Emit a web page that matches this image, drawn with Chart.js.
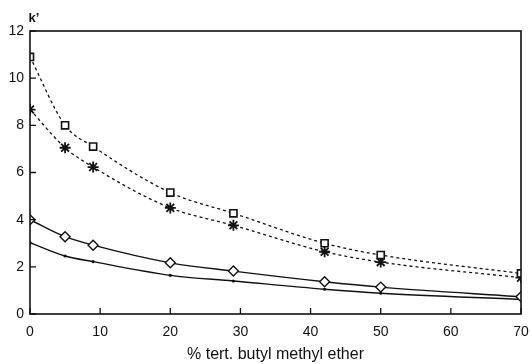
<!DOCTYPE html>
<html>
<head>
<meta charset="utf-8">
<script src="https://cdn.jsdelivr.net/npm/chart.js@4"></script>
<style>
  html, body { margin: 0; padding: 0; background: #fff; }
  #wrap { width: 532px; height: 364px; }
</style>
</head>
<body>
<div id="wrap"><canvas id="chart" width="532" height="364"></canvas></div>
<script>
const xVals = [0, 5, 9, 20, 29, 42, 50, 70];
const squares = [10.9, 8.0, 7.1, 5.15, 4.27, 3.0, 2.5, 1.72];
const stars = [8.67, 7.05, 6.23, 4.5, 3.76, 2.64, 2.2, 1.54];
const diamonds = [4.0, 3.28, 2.92, 2.17, 1.82, 1.37, 1.14, 0.73];
const dots = [3.02, 2.46, 2.22, 1.64, 1.4, 1.05, 0.88, 0.62];
const xTicks = [0, 10, 20, 30, 40, 50, 60, 70];
const yTicks = [0, 2, 4, 6, 8, 10, 12];

const FONT = "'Liberation Sans', Arial, sans-serif";
const INK = "#111";

function pts(ys) {
  return xVals.map((x, i) => ({ x, y: ys[i] }));
}

// frame + inward ticks + k' label
const framePlugin = {
  id: "frame",
  afterDraw(chart) {
    const { ctx, chartArea: a, scales } = chart;
    ctx.save();
    ctx.strokeStyle = INK;
    ctx.lineWidth = 1.6;
    ctx.strokeRect(a.left, a.top, a.right - a.left, a.bottom - a.top);
    ctx.lineWidth = 1.3;
    ctx.beginPath();
    xTicks.forEach(v => {
      const px = scales.x.getPixelForValue(v);
      ctx.moveTo(px, a.bottom);
      ctx.lineTo(px, a.bottom - 6);
    });
    yTicks.forEach(v => {
      const py = scales.y.getPixelForValue(v);
      ctx.moveTo(a.left, py);
      ctx.lineTo(a.left + 6, py);
    });
    ctx.stroke();
    ctx.fillStyle = INK;
    ctx.font = "bold 13px " + FONT;
    ctx.textAlign = "center";
    ctx.textBaseline = "middle";
    ctx.fillText("k\u2019", 34, 18);
    ctx.restore();
  }
};

new Chart(document.getElementById("chart"), {
  type: "scatter",
  data: {
    datasets: [
      {
        data: pts(squares),
        showLine: true,
        cubicInterpolationMode: "monotone",
        borderColor: INK,
        borderWidth: 1.3,
        borderDash: [3, 3],
        pointStyle: "rect",
        pointRadius: 5,
        pointBorderWidth: 1.6,
        pointBackgroundColor: "#fff",
        pointBorderColor: INK
      },
      {
        data: pts(stars),
        showLine: true,
        cubicInterpolationMode: "monotone",
        borderColor: INK,
        borderWidth: 1.3,
        borderDash: [3, 3],
        pointStyle: "star",
        pointRadius: 5.5,
        pointBorderWidth: 1.8,
        pointBackgroundColor: INK,
        pointBorderColor: INK
      },
      {
        data: pts(diamonds),
        showLine: true,
        cubicInterpolationMode: "monotone",
        borderColor: INK,
        borderWidth: 1.4,
        pointStyle: "rectRot",
        pointRadius: 5,
        pointBorderWidth: 1.4,
        pointBackgroundColor: "#fff",
        pointBorderColor: INK
      },
      {
        data: pts(dots),
        showLine: true,
        cubicInterpolationMode: "monotone",
        borderColor: INK,
        borderWidth: 1.4,
        pointStyle: "circle",
        pointRadius: 1.6,
        pointBorderWidth: 0,
        pointBackgroundColor: INK
      }
    ]
  },
  options: {
    responsive: false,
    animation: false,
    events: [],
    layout: { padding: { left: 0, right: 11, top: 31, bottom: 0 } },
    plugins: {
      legend: { display: false },
      tooltip: { enabled: false }
    },
    scales: {
      x: {
        type: "linear",
        min: 0,
        max: 70,
        afterBuildTicks: s => { s.ticks = xTicks.map(v => ({ value: v })); },
        afterFit: s => { s.height = 50; s.paddingLeft = 0; s.paddingRight = 0; },
        grid: { display: false, drawTicks: false },
        border: { display: false },
        ticks: {
          color: INK,
          padding: 10,
          font: { family: FONT, size: 14 }
        },
        title: {
          display: true,
          text: "% tert. butyl methyl ether",
          color: INK,
          padding: { top: 2, bottom: 0 },
          font: { family: FONT, size: 16 }
        }
      },
      y: {
        min: 0,
        max: 12,
        afterBuildTicks: s => { s.ticks = yTicks.map(v => ({ value: v })); },
        afterFit: s => { s.width = 30; s.paddingTop = 0; s.paddingBottom = 0; },
        grid: { display: false, drawTicks: false },
        border: { display: false },
        ticks: {
          color: INK,
          padding: 6,
          font: { family: FONT, size: 14 }
        }
      }
    }
  },
  plugins: [framePlugin]
});
</script>
</body>
</html>
